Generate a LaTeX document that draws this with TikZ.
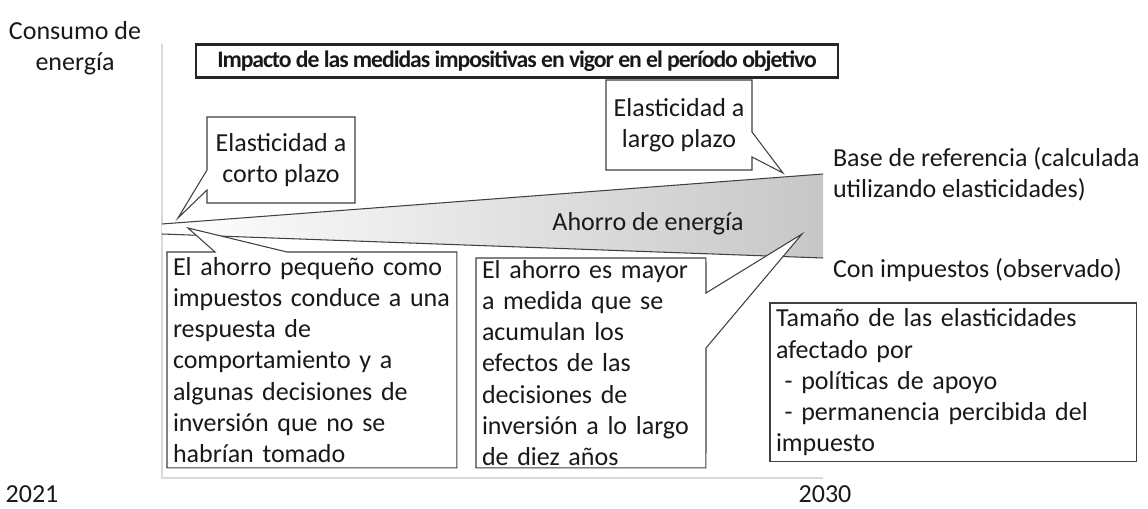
\documentclass[tikz,border=0pt]{standalone}
\usepackage{fontspec}
\setmainfont{Carlito}
\newfontfamily\titlefont[LetterSpace=-4.5]{Carlito}
\usetikzlibrary{backgrounds}

\begin{document}
\begin{tikzpicture}[x=0.02cm, y=-0.02cm,
  every node/.style={inner sep=0pt, outer sep=0pt, text=black!90,
    font=\fontsize{14.8}{17.8}\selectfont},
  note/.style={align=left, inner xsep=0.12cm, anchor=north west},
  bubble/.style={draw=black!75, line width=0.6pt, fill=white},
  curve/.style={draw=black!75, line width=0.6pt},
  axis/.style={draw=black!15, line width=0.8pt}]
\useasboundingbox (0,0) rectangle (1148,509);

% labels
\node[align=center] (ylabel) at (75,48) {Consumo de\\energía};
\node (y2021) at (32,494) {2021};
\node (y2030) at (825,494) {2030};
\node[draw=black!85, line width=1.2pt, minimum width=12.84cm, minimum height=0.66cm,
  font=\titlefont\fontsize{13.5}{16}\selectfont\bfseries] (title) at (517,61)
  {Impacto de las medidas impositivas en vigor en el período objetivo};
\node (saving) at (648,224) {Ahorro de energía};
\node[align=left, anchor=west] (baseline) at (833,174)
  {Base de referencia (calculada\\utilizando elasticidades)};
\node[anchor=west] (observed) at (833,270) {Con impuestos (observado)};

% callouts
\node[align=center, minimum width=2.96cm, minimum height=1.72cm] (short) at (281,160)
  {Elasticidad a\\corto plazo};
\node[align=center, minimum width=2.92cm, minimum height=1.80cm] (long) at (679,125)
  {Elasticidad a\\largo plazo};
\node[note, text width=5.56cm, minimum height=4.32cm] (small) at (167,252)
  {El ahorro pequeño como\\impuestos conduce a una\\respuesta de\\comportamiento y a\\algunas decisiones de\\inversión que no se\\habrían tomado};
\node[note, text width=4.36cm, minimum height=4.20cm] (grow) at (476,258)
  {El ahorro es mayor\\a medida que se\\acumulan los\\efectos de las\\decisiones de\\inversión a lo largo\\de diez años};
\node[note, text width=7.10cm, minimum height=3.18cm, draw=black!75, line width=0.6pt] (size) at (770,303)
  {Tamaño de las elasticidades\\afectado por\\\ - políticas de apoyo\\\ - permanencia percibida del\\impuesto};

\coordinate (top) at (162,44);
\coordinate (origin) at (162,478);
\coordinate (end) at (823,478);
\coordinate (base0) at (162,224);
\coordinate (base1) at (823,174);
\coordinate (obs0) at (162,234);
\coordinate (obs1) at (823,258);

\coordinate (shorttip) at (178,218);
\coordinate (shorta) at (207,190);
\coordinate (shortb) at (207,170);
\coordinate (longtip) at (783,173);
\coordinate (longa) at (752,132);
\coordinate (longb) at (752,157);
\coordinate (smalltip) at (188,228);
\coordinate (smalla) at (215,252);
\coordinate (smallb) at (287,252);
\coordinate (growtip) at (802,234);
\coordinate (growa) at (706,293);
\coordinate (growb) at (706,348);

\begin{scope}[on background layer]
\draw[axis] (top) -- (origin) -- (end);
\shade[left color=white, right color=black!22] (base0) -- (base1) -- (obs1) -- (obs0) -- cycle;
\draw[curve] (base0) -- (base1);
\draw[curve] (obs0) -- (obs1);
\draw[bubble] (short.north west) -- (short.north east) -- (short.south east)
  -- (short.south west) -- (shorta) -- (shorttip) -- (shortb) -- cycle;
\draw[bubble] (long.north west) -- (long.north east) -- (longa) -- (longtip)
  -- (longb) -- (long.south east) -- (long.south west) -- cycle;
\draw[bubble] (small.north west) -- (smalla) -- (smalltip) -- (smallb)
  -- (small.north east) -- (small.south east) -- (small.south west) -- cycle;
\draw[bubble] (grow.north west) -- (grow.north east) -- (growa) -- (growtip)
  -- (growb) -- (grow.south east) -- (grow.south west) -- cycle;
\end{scope}
\end{tikzpicture}
\end{document}
